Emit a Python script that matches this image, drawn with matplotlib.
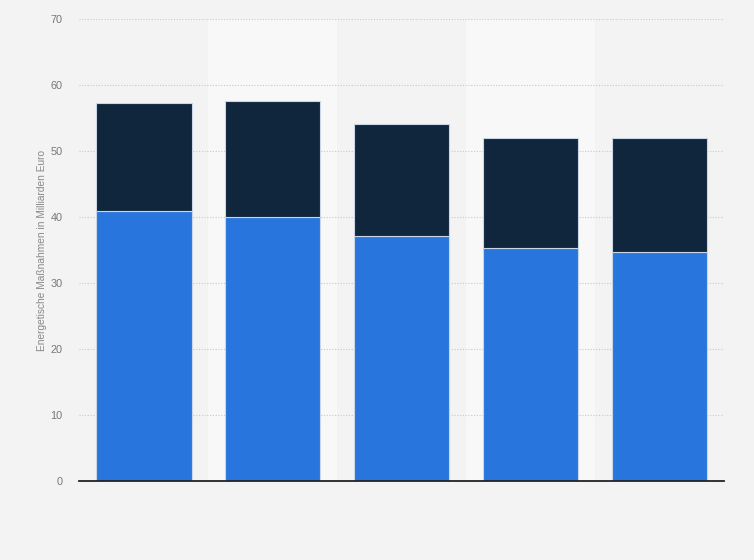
import matplotlib.pyplot as plt

plt.rcParams['font.family'] = ['Liberation Sans', 'DejaVu Sans']

# values (Mrd. Euro), x labels are not shown in the chart
categories = ["1", "2", "3", "4", "5"]
lower = [40.9, 40.05, 37.2, 35.4, 34.75]
upper = [16.4, 17.55, 16.9, 16.7, 17.35]
y_ticks = [0, 10, 20, 30, 40, 50, 60, 70]

bg = "#f3f3f3"
band = "#f8f8f8"

fig = plt.figure(figsize=(7.54, 5.6), dpi=100, facecolor=bg)
ax = fig.add_axes([0.1048, 0.1405, 0.8554, 0.8247])
ax.set_facecolor(bg)

x = list(range(len(categories)))

# lighter stripes behind every second category
for i in x:
    if i % 2 == 1:
        ax.axvspan(i - 0.5, i + 0.5, color=band, zorder=0, lw=0)

ax.bar(x, lower, width=0.744, color="#2876dd", edgecolor="#c9d6e6", linewidth=0.8, zorder=3)
ax.bar(x, upper, bottom=lower, width=0.744, color="#10263d", edgecolor="#c9d6e6", linewidth=0.8, zorder=3)

ax.set_xlim(-0.5, len(categories) - 0.5)
ax.set_ylim(0, 70)
ax.set_yticks(y_ticks)
ax.set_yticklabels([str(t) for t in y_ticks])
ax.set_xticks(x)
ax.set_xticklabels(["" for c in categories])

ax.grid(axis="y", color="#c8c8c8", linestyle=(0, (1, 1.5)), linewidth=0.8, zorder=1)
ax.set_axisbelow(True)

for side in ["top", "right", "left"]:
    ax.spines[side].set_visible(False)
ax.spines["bottom"].set_color("#222222")
ax.spines["bottom"].set_linewidth(1.3)
ax.spines["bottom"].set_zorder(4)

ax.tick_params(axis="y", length=0, pad=12, labelsize=7.8, labelcolor="#777777")
ax.tick_params(axis="x", length=0)

ax.set_ylabel("Energetische Maßnahmen in Milliarden Euro", fontsize=7.3, color="#888888", labelpad=2.5)

fig.savefig("out.png", dpi=100, facecolor=bg)
